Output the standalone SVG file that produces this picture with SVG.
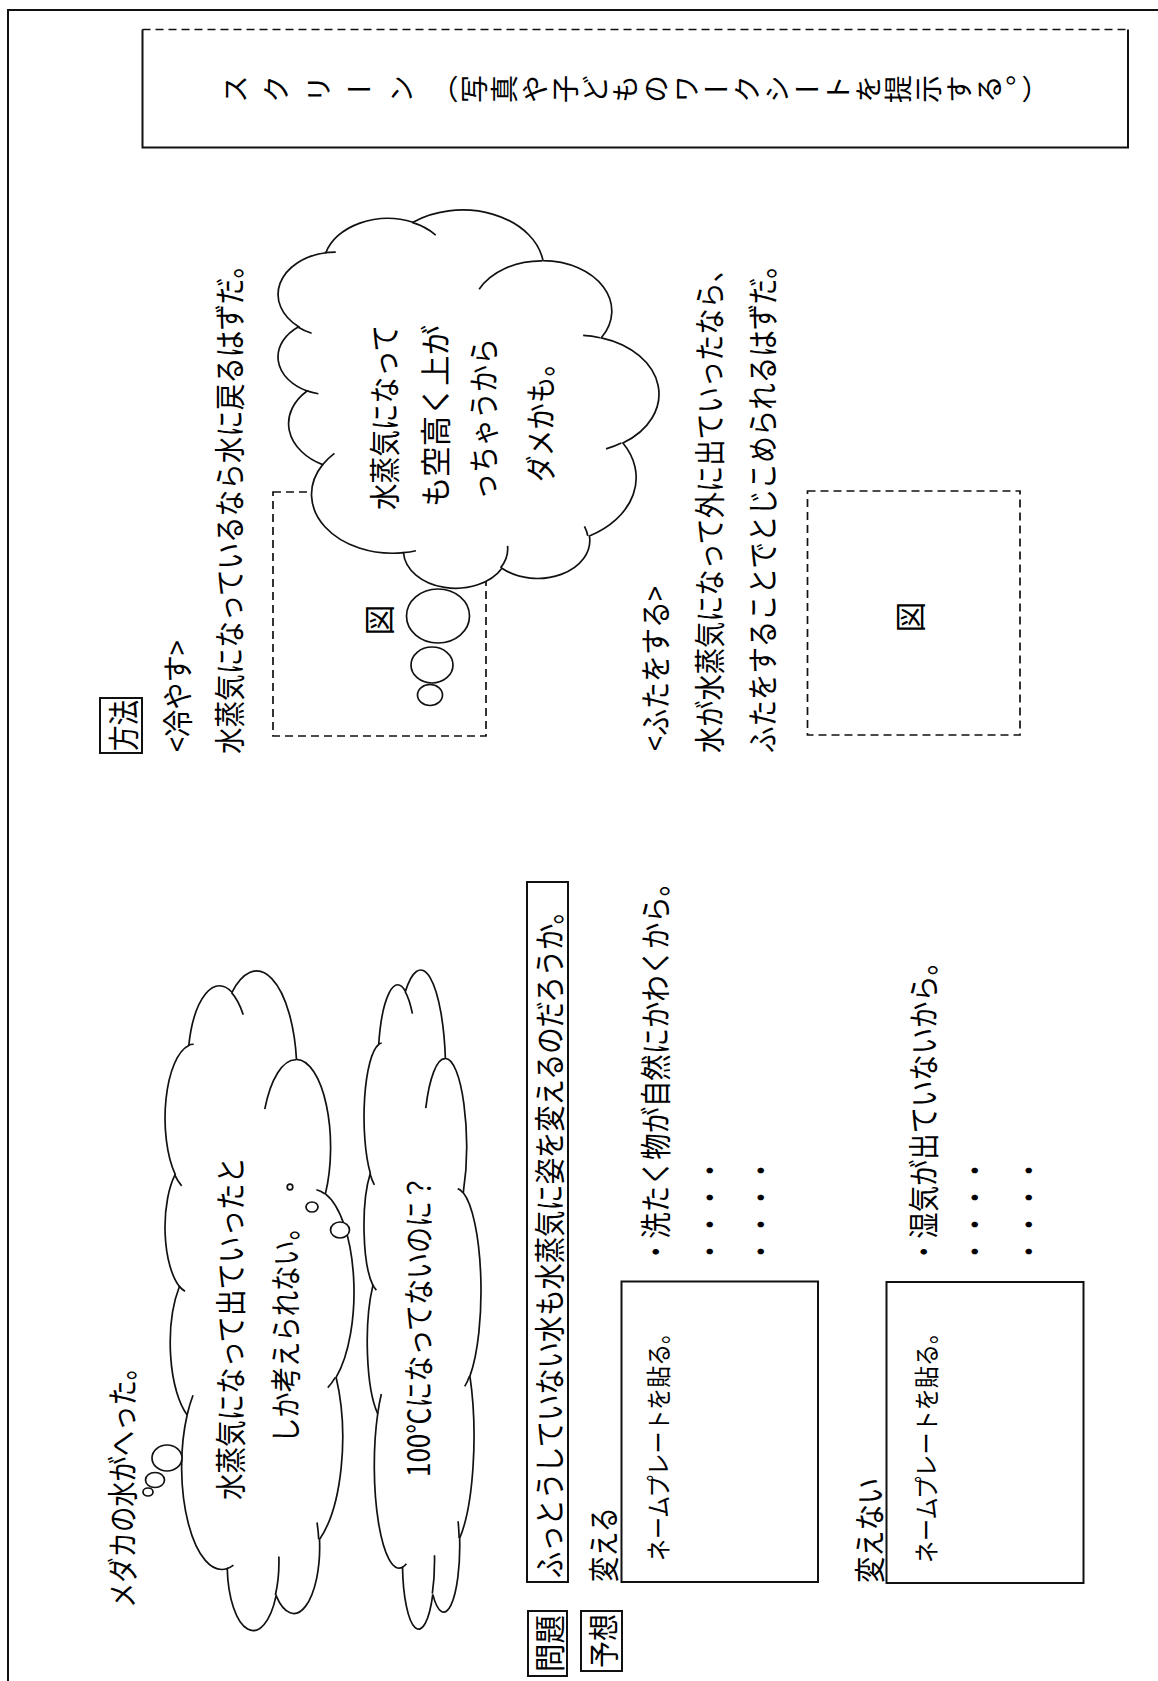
<svg xmlns="http://www.w3.org/2000/svg" width="1158" height="1681" viewBox="0 0 1158 1681">
<defs>
<style>
.t{font-family:"Noto Sans CJK JP","Noto Sans CJK SC",sans-serif;font-size:31px;fill:#000;dominant-baseline:central}
.s{font-size:25px}
.box{fill:none;stroke:#111;stroke-width:2}
.dash{fill:none;stroke:#111;stroke-width:1.7;stroke-dasharray:8 5}
.cloud{fill:#fff;stroke:#111;stroke-width:1.7}
.crease{fill:none;stroke:#111;stroke-width:1.7}
.bub{fill:#fff;stroke:#111;stroke-width:1.7}
</style>
<path id="cloudOutline" vector-effect="non-scaling-stroke" d="M3900 14370A6753 9190 0 0 1 14006 5203A5333 7267 0 0 1 22460 3433A4365 5945 0 0 1 29836 2478A4857 6595 0 0 1 38321 5573A5333 7273 0 0 1 41821 15457A6775 9220 0 0 1 37407 30200A5785 7867 0 0 1 28558 36810A6752 9215 0 0 1 16483 39262A7720 10543 0 0 1 5808 35466A4360 5918 0 0 1 2115 25547A4345 5945 0 0 1 3900 14370Z"/>
<path id="cloudCrease" vector-effect="non-scaling-stroke" d="M4693 26177A4345 5945 0 0 1 2160 25380M6928 34899A4360 5918 0 0 1 5820 35281M16478 39090A6752 9215 0 0 1 15810 37349M28827 34751A6752 9215 0 0 1 28561 36659M34129 22954A5785 7867 0 0 1 37381 30090M41798 15354A5333 7273 0 0 1 40351 18029M38324 5426A4857 6595 0 0 1 38400 6690M29078 3952A4857 6595 0 0 1 29820 2339M22141 4720A4365 5945 0 0 1 22500 3331M14000 5192A6753 9190 0 0 1 15302 6543M4127 15789A6753 9190 0 0 1 3900 14371"/>
</defs>
<rect width="1158" height="1681" fill="#fff"/>

<g id="frame"><path d="M8 1681V10H1158" fill="none" stroke="#111" stroke-width="2"/></g>

<g id="screen">
<path d="M142.5 29.5V147.5H1128V29.5" class="box" stroke-width="1.8"/>
<path d="M142.5 29.5H1128" class="dash"/>
<g transform="translate(0,89) rotate(-90)">
<text class="t" style="writing-mode:vertical-rl;dominant-baseline:auto;font-size:28px" x="0" y="221" textLength="194" lengthAdjust="spacing">スクリーン</text>
<text class="t" style="writing-mode:vertical-rl;dominant-baseline:auto;font-size:28px" x="0" y="430" textLength="620" lengthAdjust="spacing">（写真や子どものワークシートを提示する。）</text>
</g>
</g>

<g id="method-label">
<rect x="100" y="698" width="42" height="55" class="box"/>
<text class="t" transform="translate(121,751) rotate(-90)" textLength="51" lengthAdjust="spacingAndGlyphs">方法</text>
</g>
<g id="cool-title"><text class="t" transform="translate(175,752) rotate(-90)" textLength="112" lengthAdjust="spacingAndGlyphs">&lt;冷やす&gt;</text></g>
<g id="cool-text"><text class="t" transform="translate(227,754) rotate(-90)" textLength="502" lengthAdjust="spacingAndGlyphs">水蒸気になっているなら水に戻るはずだ。</text></g>
<g id="figure1">
<rect x="273" y="492" width="213" height="244" class="dash"/>
<text class="t" font-size="28" transform="translate(377,620) rotate(-90)" text-anchor="middle">図</text>
</g>

<g id="method-cloud">
<use href="#cloudOutline" class="cloud" transform="matrix(0 -0.008715 0.008816 0 276.77 586.69)"/>
<use href="#cloudCrease" class="crease" transform="matrix(0 -0.008715 0.008816 0 276.77 586.69)"/>
<text class="t" transform="translate(382,510) rotate(-90)" textLength="185" lengthAdjust="spacingAndGlyphs">水蒸気になって</text>
<text class="t" transform="translate(433,507) rotate(-90)" textLength="182" lengthAdjust="spacingAndGlyphs">も空高く上が</text>
<text class="t" transform="translate(481,500) rotate(-90)" textLength="162" lengthAdjust="spacingAndGlyphs">っちゃうから</text>
<text class="t" transform="translate(538,482) rotate(-90)" textLength="132" lengthAdjust="spacingAndGlyphs">ダメかも。</text>
</g>

<g id="lid-title"><text class="t" transform="translate(653,751) rotate(-90)" textLength="165" lengthAdjust="spacingAndGlyphs">&lt;ふたをする&gt;</text></g>
<g id="lid-text">
<text class="t" transform="translate(707,753) rotate(-90)" textLength="497" lengthAdjust="spacingAndGlyphs">水が水蒸気になって外に出ていったなら、</text>
<text class="t" transform="translate(760,753) rotate(-90)" textLength="501" lengthAdjust="spacingAndGlyphs">ふたをすることでとじこめられるはずだ。</text>
</g>
<g id="figure2">
<rect x="807.5" y="491" width="212.5" height="244" class="dash"/>
<text class="t" font-size="28" transform="translate(908,617) rotate(-90)" text-anchor="middle">図</text>
</g>

<g id="observation"><text class="t" transform="translate(120,1608) rotate(-90)" textLength="253" lengthAdjust="spacingAndGlyphs">メダカの水がへった。</text></g>

<g id="cloud-vapor">
<use href="#cloudOutline" class="cloud" transform="matrix(0 -0.015195 0.0043735 0 164.39 1627.77)"/>
<use href="#cloudCrease" class="crease" transform="matrix(0 -0.015195 0.0043735 0 164.39 1627.77)"/>
<text class="t" transform="translate(228,1500) rotate(-90)" textLength="343" lengthAdjust="spacingAndGlyphs">水蒸気になって出ていったと</text>
<text class="t" transform="translate(283,1443) rotate(-90)" textLength="228" lengthAdjust="spacingAndGlyphs">しか考えられない。</text>
</g>

<g id="cloud-100">
<use href="#cloudOutline" class="cloud" transform="matrix(0 -0.015188 0.0027074 0 363.62 1626.47)"/>
<use href="#cloudCrease" class="crease" transform="matrix(0 -0.015188 0.0027074 0 363.62 1626.47)"/>
<text class="t" transform="translate(416,1477) rotate(-90)" textLength="302" lengthAdjust="spacingAndGlyphs">100℃になってないのに？</text>
</g>

<g id="connectors">
<ellipse cx="438" cy="616" rx="31.5" ry="27" class="bub"/>
<ellipse cx="432" cy="665" rx="21" ry="18" class="bub"/>
<ellipse cx="430" cy="695" rx="12.5" ry="10.5" class="bub"/>
<ellipse cx="167" cy="1458" rx="15" ry="13" class="bub"/>
<ellipse cx="155" cy="1480" rx="9.5" ry="7.5" class="bub"/>
<ellipse cx="148" cy="1492" rx="5" ry="4" class="bub"/>
<ellipse cx="340" cy="1230" rx="9.5" ry="8" class="bub"/>
<ellipse cx="312" cy="1207" rx="6" ry="5" class="bub"/>
<ellipse cx="290" cy="1187" rx="2.8" ry="2.8" class="bub"/>
</g>

<g id="problem">
<rect x="528" y="1611" width="39" height="65" class="box"/>
<text class="t" transform="translate(547.5,1672) rotate(-90)" textLength="57" lengthAdjust="spacingAndGlyphs">問題</text>
<rect x="527" y="882" width="41" height="700" class="box"/>
<text class="t" transform="translate(547.5,1578) rotate(-90)" textLength="680" lengthAdjust="spacingAndGlyphs">ふっとうしていない水も水蒸気に姿を変えるのだろうか。</text>
</g>

<g id="prediction-label">
<rect x="581" y="1611" width="41" height="60" class="box"/>
<text class="t" transform="translate(601.5,1668) rotate(-90)" textLength="54" lengthAdjust="spacingAndGlyphs">予想</text>
</g>

<g id="change">
<text class="t" transform="translate(601,1582) rotate(-90)" textLength="75" lengthAdjust="spacingAndGlyphs">変える</text>
<rect x="621.5" y="1281.5" width="196.5" height="300.5" class="box"/>
<text class="t s" transform="translate(657,1561) rotate(-90)" textLength="239" lengthAdjust="spacingAndGlyphs">ネームプレートを貼る。</text>
<text class="t" transform="translate(653,1265) rotate(-90)" textLength="395" lengthAdjust="spacingAndGlyphs">・洗たく物が自然にかわくから。</text>
<text class="t" transform="translate(707,1265) rotate(-90)" textLength="108" lengthAdjust="spacingAndGlyphs">・・・・</text>
<text class="t" transform="translate(758,1265) rotate(-90)" textLength="108" lengthAdjust="spacingAndGlyphs">・・・・</text>
</g>

<g id="no-change">
<text class="t" transform="translate(867,1583) rotate(-90)" textLength="105" lengthAdjust="spacingAndGlyphs">変えない</text>
<rect x="886.5" y="1282" width="197" height="301" class="box"/>
<text class="t s" transform="translate(925,1563) rotate(-90)" textLength="241" lengthAdjust="spacingAndGlyphs">ネームプレートを貼る。</text>
<text class="t" transform="translate(921,1265) rotate(-90)" textLength="316" lengthAdjust="spacingAndGlyphs">・湿気が出ていないから。</text>
<text class="t" transform="translate(972,1265) rotate(-90)" textLength="108" lengthAdjust="spacingAndGlyphs">・・・・</text>
<text class="t" transform="translate(1026,1265) rotate(-90)" textLength="108" lengthAdjust="spacingAndGlyphs">・・・・</text>
</g>
</svg>
